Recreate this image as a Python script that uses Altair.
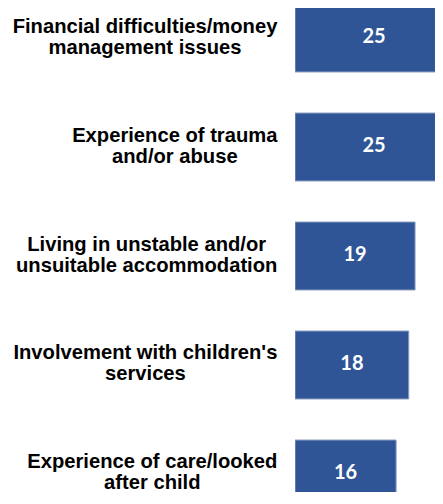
import json
import altair as alt
import pandas as pd

# ---- data ----
labels = [
    "Financial difficulties/money|management issues",
    "Experience of trauma|and/or abuse",
    "Living in unstable and/or|unsuitable accommodation",
    "Involvement with children's|services",
    "Experience of care/looked|after child",
]
values = [25, 25, 19, 18, 16]

df = pd.DataFrame({"label": labels, "value": values})

# ---- label layout helper: Arial/Liberation Sans Bold advance widths (1/1000 em) ----
ADV = {
    " ": 278, "'": 238, "/": 278,
    "a": 556, "b": 611, "c": 556, "d": 611, "e": 556, "f": 333, "g": 611,
    "h": 611, "i": 278, "j": 278, "k": 556, "l": 278, "m": 889, "n": 611,
    "o": 611, "p": 611, "q": 611, "r": 389, "s": 556, "t": 333, "u": 611,
    "v": 556, "w": 778, "x": 556, "y": 556, "z": 500,
    "E": 667, "F": 611, "I": 278, "L": 611,
}
FS = 20.2
LH = 21
GAP = 18


def text_w(s):
    return sum(ADV.get(ch, 600) for ch in s) * FS / 1000.0


pads = [round(GAP + max(text_w(l) for l in lab.split("|")) / 2, 1) for lab in labels]
pad_expr = f"{json.dumps(pads)}[indexof({json.dumps(labels)}, datum.value)]"

BLUE = "#2F5597"
EDGE = "#93A3C4"
XMAX = 22.15  # visible part of the value axis

base = alt.Chart(df).encode(
    y=alt.Y(
        "label:N",
        sort=labels,
        title=None,
        scale=alt.Scale(paddingInner=0.376, paddingOuter=0),
        axis=alt.Axis(
            domain=False,
            ticks=False,
            grid=False,
            labelExpr="split(datum.label, '|')",
            labelFont="Liberation Sans",
            labelFontWeight="bold",
            labelFontSize=FS,
            labelColor="#000000",
            labelLineHeight=LH,
            labelAlign="center",
            labelBaseline="middle",
            labelLimit=0,
            labelOffset=-LH / 2 - 1,
            labelPadding={"expr": pad_expr},
        ),
    )
)

bars = base.mark_bar(color=BLUE, stroke=EDGE, strokeWidth=1, clip=True).encode(
    x=alt.X(
        "value:Q",
        axis=None,
        scale=alt.Scale(domain=[0, XMAX], nice=False),
    )
)

texts = base.transform_calculate(mid="datum.value / 2").mark_text(
    color="white",
    font="Lato",
    fontWeight="bold",
    fontSize=20,
    align="center",
    baseline="middle",
    dy=-1,
).encode(
    x=alt.X("mid:Q", axis=None, scale=alt.Scale(domain=[0, XMAX], nice=False)),
    text=alt.Text("value:Q"),
)

chart = (
    alt.layer(bars, texts)
    .properties(
        width=140,
        height=504,
        autosize=alt.AutoSizeParams(type="none"),
        padding={"left": 287, "top": -4, "right": 0, "bottom": -16},
        background="white",
    )
    .configure_view(stroke=None)
)

chart.save("out.html", embed_options={"renderer": "svg", "actions": False})
